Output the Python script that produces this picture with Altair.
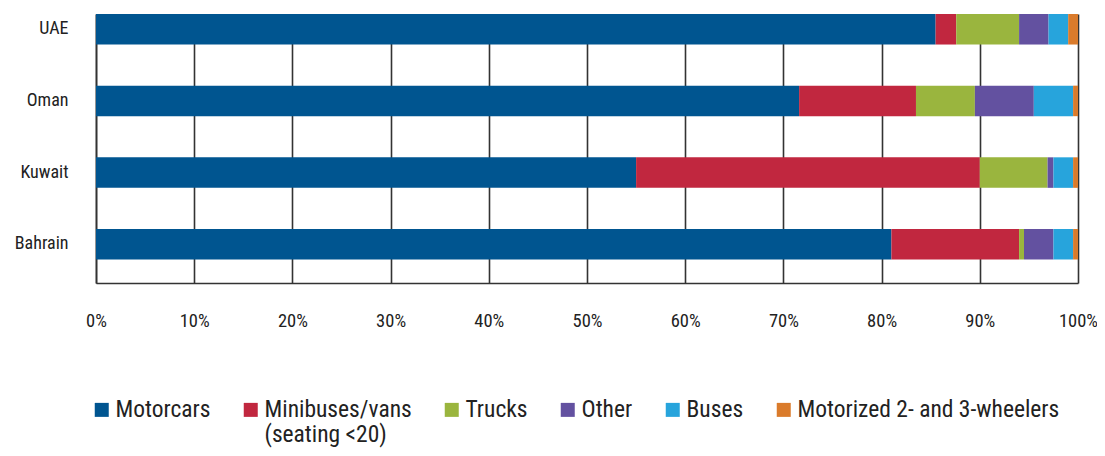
import altair as alt
import pandas as pd

countries = ["UAE", "Oman", "Kuwait", "Bahrain"]
categories = ["Motorcars", "Minibuses/vans", "Trucks", "Other", "Buses", "Motorized 2- and 3-wheelers"]
colors = ["#005590", "#C1273F", "#9AB53E", "#6351A0", "#27A4DC", "#DA7B2B"]

motorcars = [85.5, 71.6, 55.0, 81.0]
minibuses = [2.1, 11.9, 35.0, 13.0]
trucks = [6.4, 6.0, 6.9, 0.5]
other = [3.0, 6.0, 0.6, 3.0]
buses = [2.0, 4.0, 2.0, 2.0]
motorized = [1.0, 0.5, 0.5, 0.5]

tick_values = [0, 10, 20, 30, 40, 50, 60, 70, 80, 90, 100]

series = [motorcars, minibuses, trucks, other, buses, motorized]
rows = []
for ci, (cat, vals) in enumerate(zip(categories, series)):
    for country, v in zip(countries, vals):
        rows.append({"country": country, "category": cat, "order": ci, "value": v})
df = pd.DataFrame(rows)

FONT = "Liberation Sans Narrow, Roboto Condensed, DejaVu Sans Condensed, sans-serif"

chart = alt.Chart(df).mark_bar(strokeWidth=0).encode(
    x=alt.X("value:Q", stack="zero",
            scale=alt.Scale(domain=[0, 100], nice=False),
            axis=alt.Axis(title=None, values=tick_values, labelExpr="datum.value + '%'",
                          grid=True, gridColor="#333333", gridWidth=1.6,
                          ticks=False, domain=True, domainColor="#333333", domainWidth=1.6,
                          labelPadding=28, labelFontSize=18.5, labelFont=FONT, labelColor="#222222",
                          labelFontWeight="normal", labelFlush=False)),
    y=alt.Y("country:N", sort=countries,
            scale=alt.Scale(paddingInner=0.574, paddingOuter=0.164, align=0),
            axis=alt.Axis(title=None, ticks=False, domain=True, domainColor="#333333", domainWidth=1.6,
                          labelPadding=28, labelFontSize=18, labelFont=FONT, labelColor="#222222",
                          labelFontWeight="normal", grid=False)),
    color=alt.Color("category:N", sort=categories,
                    scale=alt.Scale(domain=categories, range=colors),
                    legend=alt.Legend(title=None, orient="none", legendX=-6, legendY=384,
                                      padding=0,
                                      direction="horizontal", columns=6, columnPadding=28,
                                      symbolType="square", symbolSize=196, symbolStrokeWidth=0,
                                      labelFontSize=23.5, labelFont=FONT, labelColor="#222222",
                                      labelOffset=2, labelLimit=400,
                                      labelExpr="datum.label == 'Minibuses/vans' ? ['Minibuses/vans', '(seating <20)'] : [datum.label, ' ']")),
    order=alt.Order("order:Q", sort="ascending"),
).properties(
    width=982, height=269,
    autosize=alt.AutoSizeParams(type="none"),
    padding={"left": 88, "top": 6, "right": 19, "bottom": 165},
).configure_view(stroke=None)

chart.save("out.html", embed_options={"renderer": "svg", "actions": False})
